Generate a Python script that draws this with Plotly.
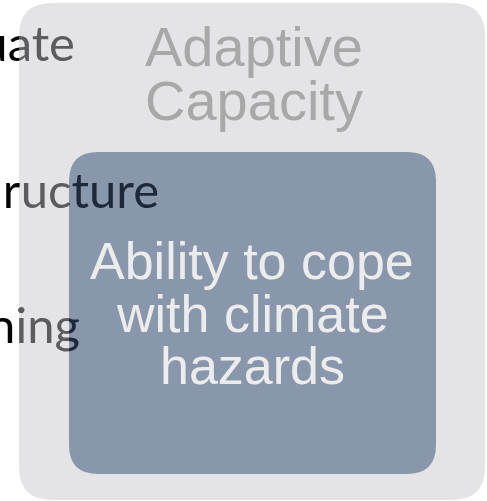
import plotly.graph_objects as go

# ---- content ----
side_labels = ["uate", "ructure", "ning"]
side_label_x = [75, 159, 80]        # right edge of each label (px)
side_label_y = [49, 196, 331]       # vertical centre (px)

outer_title = ["Adaptive", "Capacity"]
outer_title_y = [46, 100]
inner_text = ["Ability to cope", "with climate", "hazards"]
inner_text_y = [261, 314, 366]

W, H = 487, 501
outer_box = [19, 3, 485, 500]   # x0, y0, x1, y1
inner_box = [69, 152, 436, 474]


def rrect(x0, y0, x1, y1, r):
    return (f"M{x0+r},{y0} L{x1-r},{y0} Q{x1},{y0} {x1},{y0+r} "
            f"L{x1},{y1-r} Q{x1},{y1} {x1-r},{y1} L{x0+r},{y1} "
            f"Q{x0},{y1} {x0},{y1-r} L{x0},{y0+r} Q{x0},{y0} {x0+r},{y0} Z")


fig = go.Figure()

fig.add_trace(go.Scatter(
    x=side_label_x, y=side_label_y, mode="text", text=side_labels,
    textposition="middle left",
    textfont=dict(family="Lato", size=49, color="#050505"),
    hoverinfo="skip", showlegend=False,
))

outer_path = rrect(*outer_box, 33)
inner_path = rrect(*inner_box, 29)

shapes = [
    dict(type="path", path=inner_path, layer="below",
         fillcolor="rgb(149,152,155)", line=dict(width=0)),
    dict(type="path", path=outer_path + " " + inner_path, layer="above",
         fillcolor="rgba(196,196,200,0.46)", line=dict(width=0),
         fillrule="evenodd"),
    dict(type="path", path=inner_path, layer="above",
         fillcolor="rgba(104,148,224,0.25)", line=dict(width=0)),
]

annotations = []
for t, y in zip(outer_title, outer_title_y):
    annotations.append(dict(x=254, y=y, text=t, showarrow=False,
                            xanchor="center", yanchor="middle",
                            font=dict(family="Liberation Sans, Arial", size=56,
                                      color="#a8a8a8")))
for t, y in zip(inner_text, inner_text_y):
    annotations.append(dict(x=252, y=y, text=t, showarrow=False,
                            xanchor="center", yanchor="middle",
                            font=dict(family="Liberation Sans, Arial", size=52,
                                      color="#ececec")))

fig.update_layout(
    width=W, height=H, margin=dict(l=0, r=0, t=0, b=0),
    paper_bgcolor="white", plot_bgcolor="white",
    xaxis=dict(range=[0, W], visible=False, fixedrange=True),
    yaxis=dict(range=[H, 0], visible=False, fixedrange=True),
    shapes=shapes, annotations=annotations,
)

fig.write_html("out.html",
               config={"displayModeBar": False, "staticPlot": True},
               post_script="document.body.style.margin='0';document.body.style.overflow='hidden';")
